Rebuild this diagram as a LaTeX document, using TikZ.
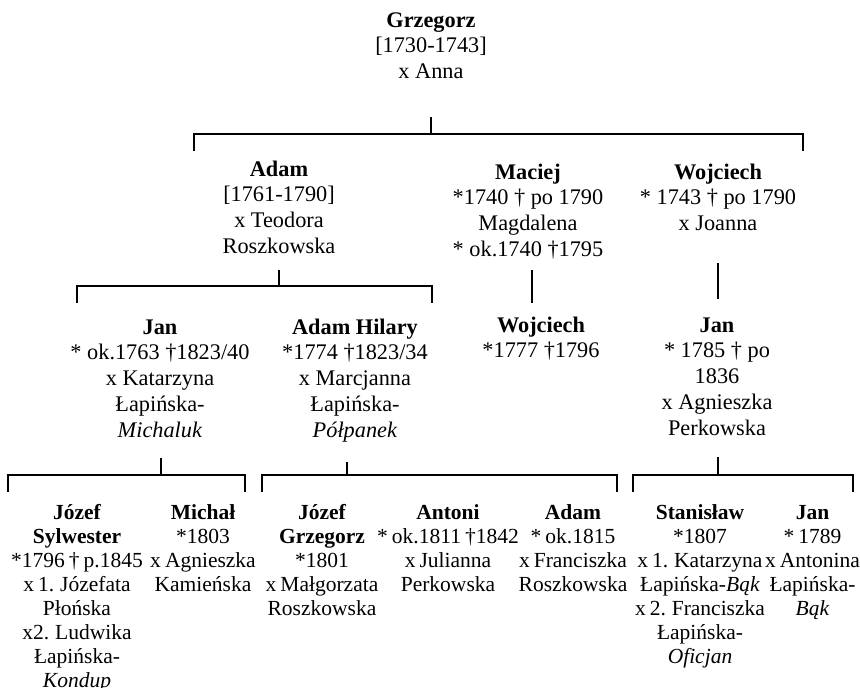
\documentclass[tikz,border=0pt]{standalone}
\usepackage{fontspec}
\setmainfont{Liberation Serif}
\newfontfamily\lowfont{Liberation Serif}[WordSpace=0.75]
\newcommand\firstln{\rule{0pt}{18pt}}
\tikzset{
  person/.style={anchor=north, inner sep=0pt, outer sep=0pt, align=center,
    font=\fontsize{22.3}{25.8}\selectfont},
  personlow/.style={person, font=\lowfont\fontsize{21.5}{24}\selectfont},
  link/.style={line width=1.3pt, line join=miter}
}
\begin{document}
\begin{tikzpicture}[x=1pt,y=-1pt]
\useasboundingbox (0,0) rectangle (860,688);

% generation 1
\node[person] (g) at (431,9) {\firstln\textbf{Grzegorz}\\{[1730-1743]}\\x Anna};

% generation 2
\node[person] (adam) at (279,158) {\firstln\textbf{Adam}\\{[1761-1790]}\\x Teodora\\Roszkowska};
\node[person] (maciej) at (528,161) {\firstln\textbf{Maciej}\\*1740 † po 1790\\Magdalena\\* ok.1740 †1795};
\node[person] (wojciech) at (718,161) {\firstln\textbf{Wojciech}\\* 1743 † po 1790\\x Joanna};

% generation 3
\node[person] (jan) at (160,316) {\firstln\textbf{Jan}\\* ok.1763 †1823/40\\x Katarzyna\\Łapińska-\\\textit{Michaluk}};
\node[person] (adamh) at (355,316) {\firstln\textbf{Adam Hilary}\\*1774 †1823/34\\x Marcjanna\\Łapińska-\\\textit{Półpanek}};
\node[person] (wojciechb) at (541,314) {\firstln\textbf{Wojciech}\\*1777 †1796};
\node[person] (janb) at (717,314) {\firstln\textbf{Jan}\\* 1785 † po\\1836\\x Agnieszka\\Perkowska};

% generation 4
\node[personlow] (jozefs) at (77,501) {\firstln\textbf{Józef}\\\textbf{Sylwester}\\*1796 † p.1845\\x 1. Józefata\\Płońska\\x2. Ludwika\\Łapińska-\\\textit{Kondup}};
\node[personlow] (michal) at (203,501) {\firstln\textbf{Michał}\\*1803\\x Agnieszka\\Kamieńska};
\node[personlow] (jozefg) at (322,501) {\firstln\textbf{Józef}\\\textbf{Grzegorz}\\*1801\\x Małgorzata\\Roszkowska};
\node[personlow] (antoni) at (448,501) {\firstln\textbf{Antoni}\\* ok.1811 †1842\\x Julianna\\Perkowska};
\node[personlow] (adamc) at (573,501) {\firstln\textbf{Adam}\\* ok.1815\\x Franciszka\\Roszkowska};
\node[personlow] (stan) at (700,501) {\firstln\textbf{Stanisław}\\*1807\\x 1. Katarzyna\\Łapińska-\textit{Bąk}\\x 2. Franciszka\\Łapińska-\\\textit{Oficjan}};
\node[personlow] (janc) at (812.5,501) {\firstln\textbf{Jan}\\* 1789\\x Antonina\\Łapińska-\\\textit{Bąk}};

% connectors: Grzegorz
\coordinate (gS) at (g.south |- 0,117);
\coordinate (gB) at (g.south |- 0,134);
\coordinate (gL) at (194,134);
\coordinate (gR) at (803,134);
\coordinate (gLd) at (194,151);
\coordinate (gRd) at (803,151);
\draw[link] (gS) -- (gB);
\draw[link] (gLd) -- (gL) -- (gR) -- (gRd);

% Adam
\coordinate (aS) at (adam.south |- 0,270);
\coordinate (aB) at (adam.south |- 0,286);
\coordinate (aL) at (77,286);
\coordinate (aR) at (432,286);
\coordinate (aLd) at (77,303);
\coordinate (aRd) at (432,303);
\draw[link] (aS) -- (aB);
\draw[link] (aLd) -- (aL) -- (aR) -- (aRd);

% Maciej -> Wojciech
\coordinate (mS) at (532,270);
\coordinate (mE) at (532,303);
\draw[link] (mS) -- (mE);

% Wojciech -> Jan
\coordinate (wS) at (wojciech.south |- 0,263);
\coordinate (wE) at (wojciech.south |- 0,299);
\draw[link] (wS) -- (wE);

% Jan
\coordinate (jS) at (161,458);
\coordinate (jB) at (161,475);
\coordinate (jL) at (8,475);
\coordinate (jR) at (245,475);
\coordinate (jLd) at (8,492);
\coordinate (jRd) at (245,492);
\draw[link] (jS) -- (jB);
\draw[link] (jLd) -- (jL) -- (jR) -- (jRd);

% Adam Hilary
\coordinate (hS) at (347,462);
\coordinate (hB) at (347,475);
\coordinate (hL) at (262,475);
\coordinate (hR) at (617,475);
\coordinate (hLd) at (262,492);
\coordinate (hRd) at (617,492);
\draw[link] (hS) -- (hB);
\draw[link] (hLd) -- (hL) -- (hR) -- (hRd);

% Jan (son of Wojciech)
\coordinate (kS) at (718,457);
\coordinate (kB) at (718,475);
\coordinate (kL) at (633,475);
\coordinate (kR) at (853,475);
\coordinate (kLd) at (633,492);
\coordinate (kRd) at (853,492);
\draw[link] (kS) -- (kB);
\draw[link] (kLd) -- (kL) -- (kR) -- (kRd);
\end{tikzpicture}
\end{document}
